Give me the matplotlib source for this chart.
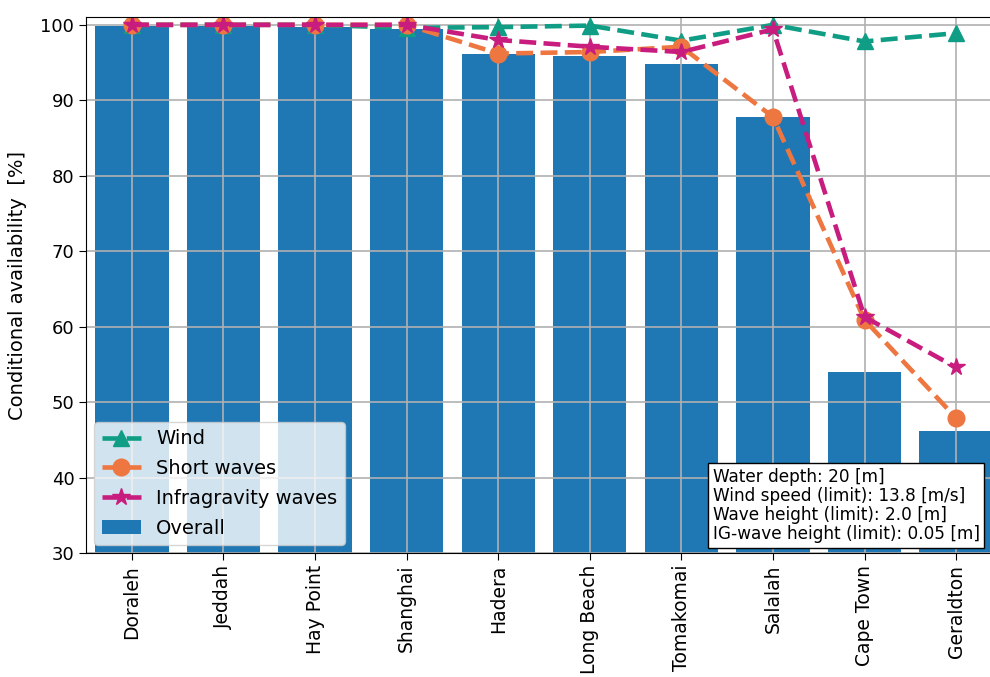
import matplotlib
matplotlib.use("Agg")
import matplotlib.pyplot as plt

# Puertos y disponibilidades [%]
puertos = ["Doraleh", "Jeddah", "Hay Point", "Shanghai", "Hadera", "Long Beach",
           "Tomakomai", "Salalah", "Cape Town", "Geraldton"]
overall = [99.9, 99.8, 99.7, 99.4, 96.2, 95.9, 94.8, 87.8, 54.0, 46.2]
wind = [100.0, 100.0, 100.0, 99.6, 99.7, 99.9, 97.9, 100.0, 97.8, 98.9]
short_waves = [100.0, 100.0, 100.0, 100.0, 96.2, 96.4, 97.1, 87.8, 60.9, 47.9]
ig_waves = [100.0, 100.0, 100.0, 100.0, 98.0, 97.1, 96.4, 99.4, 61.3, 54.6]

info = ("Water depth: 20 [m]\n"
        "Wind speed (limit): 13.8 [m/s]\n"
        "Wave height (limit): 2.0 [m]\n"
        "IG-wave height (limit): 0.05 [m]")

fig = plt.figure(figsize=(9.9, 6.77), dpi=100)
# el eje se sale un poco del borde derecho (figura recortada)
ax = fig.add_axes([0.087, 0.183, 0.925, 0.792])

x = list(range(len(puertos)))
ax.plot(x, wind, "--", marker="^", color="#0f9e85", lw=3.3, ms=12, label="Wind")
ax.plot(x, short_waves, "--", marker="o", color="#ee7640", lw=3.3, ms=12,
        label="Short waves")
ax.plot(x, ig_waves, "--", marker="*", color="#c81d7e", lw=3.3, ms=13,
        label="Infragravity waves")
ax.bar(x, overall, width=0.8, color="#1f77b4", label="Overall")

ax.set_xlim(-0.5, 9.5)
ax.set_ylim(30, 101.05)
ax.set_xticks(x)
ax.set_xticklabels(puertos, rotation=90, fontsize=13.5)
ax.tick_params(axis="y", labelsize=13)
ax.tick_params(length=5)
ax.set_ylabel("Conditional availability  [%]", fontsize=14, labelpad=10)
ax.grid(True, color="#b0b0b0", lw=1.2)

ax.legend(loc="lower left", fontsize=14, borderaxespad=0.4,
          handlelength=2.0, labelspacing=0.55)

ax.text(0.684, 0.018, info, transform=ax.transAxes, ha="left", va="bottom",
        fontsize=12.2, linespacing=1.08,
        bbox=dict(boxstyle="square,pad=0.28", facecolor="white", edgecolor="black"))

fig.savefig("out.png", dpi=100)
